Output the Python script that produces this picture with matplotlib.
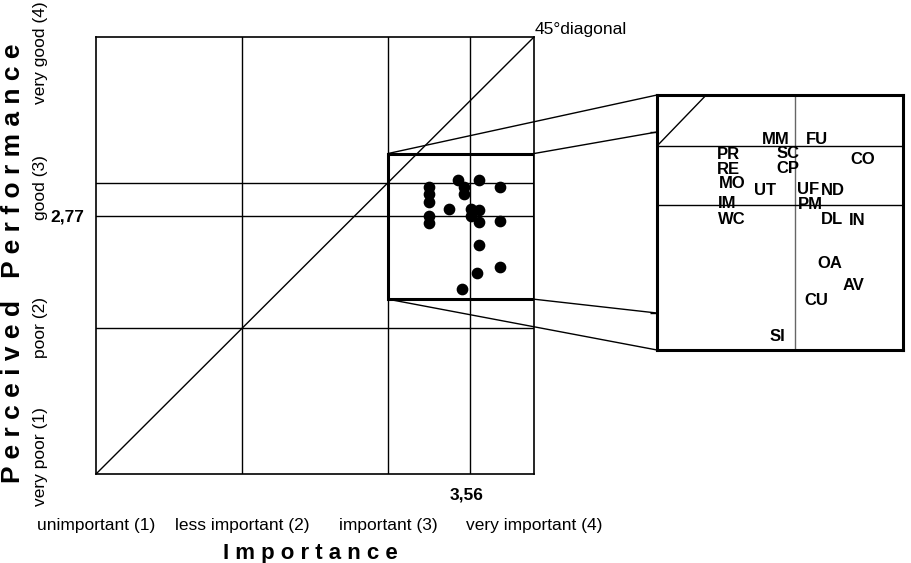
import numpy as np
import matplotlib.pyplot as plt
from matplotlib.patches import Rectangle, ConnectionPatch

plt.rcParams['font.family'] = ['Liberation Sans', 'DejaVu Sans']

# attributes: importance (x) and perceived performance (y)
labels = ['MM', 'FU', 'PR', 'SC', 'CO', 'RE', 'CP', 'MO', 'UT', 'UF',
          'ND', 'IM', 'PM', 'WC', 'DL', 'IN', 'OA', 'AV', 'CU', 'SI']
importance = [3.48, 3.62, 3.28, 3.52, 3.77, 3.28, 3.52, 3.28, 3.42, 3.57,
              3.62, 3.28, 3.57, 3.28, 3.62, 3.77, 3.62, 3.77, 3.61, 3.51]
performance = [3.02, 3.02, 2.97, 2.97, 2.97, 2.92, 2.92, 2.87, 2.82, 2.82,
               2.81, 2.77, 2.77, 2.72, 2.73, 2.74, 2.57, 2.42, 2.38, 2.27]

mean_imp = 3.56
mean_perf = 2.77

x_ticks = [1, 2, 3, 4]
x_ticklabels = ['unimportant (1)', 'less important (2)', 'important (3)', 'very important (4)']
y_ticks = [1, 2, 3, 4]
y_ticklabels = ['very poor (1)', 'poor (2)', 'good (3)', 'very good (4)']

# zoomed region
zx = (3.0, 4.0)
zy = (2.2, 3.2)

# label offsets in the zoom panel (pixels)
lab_off = {'MM': (1, 1), 'FU': (7, 1), 'PR': (3, -1), 'SC': (3, 0), 'CO': (16, -6),
           'RE': (3, -3), 'CP': (3, -2), 'MO': (6, -4), 'UT': (5, 1), 'UF': (11, 2),
           'ND': (23, 4), 'IM': (1, 1), 'PM': (13, 0), 'WC': (6, -2), 'DL': (22, -5),
           'IN': (11, -8), 'OA': (20, -8), 'AV': (7, 8), 'CU': (9, 4), 'SI': (-5, -4)}
ytick_shift = [17, 1, -5, -16]

fig = plt.figure(figsize=(9.12, 5.63), dpi=100)
ax = fig.add_axes([96/912, 89/563, 438/912, 437/563])
ax.set_xlim(1, 4)
ax.set_ylim(1, 4)
ax.set_xticks([])
ax.set_yticks([])
for s in ax.spines.values():
    s.set_linewidth(1.2)

for v in [2, 3, mean_imp]:
    ax.axvline(v, color='black', lw=1)
for v in [2, 3, mean_perf]:
    ax.axhline(v, color='black', lw=1)
ax.plot([1, 4], [1, 4], color='black', lw=1)
ax.scatter(importance, performance, s=55, color='black', zorder=3)
ax.add_patch(Rectangle((zx[0], zy[0]), zx[1]-zx[0], zy[1]-zy[0], fill=False,
                       lw=2.2, color='black', zorder=4))

ax.annotate('45°diagonal', xy=(4, 4), xytext=(1, 0), textcoords='offset pixels',
            ha='left', va='bottom', fontsize=12.5, annotation_clip=False)

for v, t in zip(x_ticks, x_ticklabels):
    ax.annotate(t, xy=(v, 0), xycoords=('data', 'axes fraction'), xytext=(0, -44),
                textcoords='offset pixels', ha='center', va='top', fontsize=12.5)
for v, t, sh in zip(y_ticks, y_ticklabels, ytick_shift):
    ax.annotate(t, xy=(0, v), xycoords=('axes fraction', 'data'), xytext=(-48, sh),
                textcoords='offset pixels', ha='right', va='center', rotation=90,
                fontsize=12.5)
ax.annotate('3,56', xy=(mean_imp, 0), xycoords=('data', 'axes fraction'),
            xytext=(-3, -13), textcoords='offset pixels', ha='center', va='top',
            fontsize=12.5, fontweight='bold')
ax.annotate('2,77', xy=(0, mean_perf), xycoords=('axes fraction', 'data'),
            xytext=(-12, -1), textcoords='offset pixels', ha='right', va='center',
            fontsize=12.5, fontweight='bold')

fig.text(310/912, 1 - 553/563, 'I m p o r t a n c e', ha='center', va='center',
         fontsize=16, fontweight='bold')
fig.text(13/912, 1 - 263/563, 'P e r c e i v e d   P e r f o r m a n c e',
         ha='center', va='center', rotation=90, fontsize=19, fontweight='bold')

# zoom panel
axin = fig.add_axes([657/912, 1 - 350/563, 246/912, 255/563])
axin.set_xlim(*zx)
axin.set_ylim(*zy)
axin.set_xticks([])
tick_fr = [0.145, 0.855]
axin.set_yticks([zy[0] + f*(zy[1]-zy[0]) for f in tick_fr])
axin.set_yticklabels([])
axin.tick_params(axis='y', direction='out', length=5, width=1)
for s in axin.spines.values():
    s.set_linewidth(2.2)
axin.axvline(mean_imp, color='#666666', lw=1)
axin.axhline(3, color='black', lw=1)
axin.axhline(mean_perf, color='black', lw=1)
axin.plot([1, 4], [1, 4], color='black', lw=1)
for x, y, t in zip(importance, performance, labels):
    axin.annotate(t, xy=(x, y), xytext=lab_off[t], textcoords='offset pixels',
                  ha='center', va='center', fontsize=12, fontweight='bold')

# connecting lines from the zoom box to the panel
links = [((zx[0], zy[1]), (0, 1)), ((zx[1], zy[1]), (0, tick_fr[1])),
         ((zx[0], zy[0]), (0, 0)), ((zx[1], zy[0]), (0, tick_fr[0]))]
for a, b in links:
    fig.add_artist(ConnectionPatch(xyA=a, coordsA=ax.transData, xyB=b,
                                   coordsB=axin.transAxes, color='black', lw=1))

fig.savefig('out.png', dpi=100)
